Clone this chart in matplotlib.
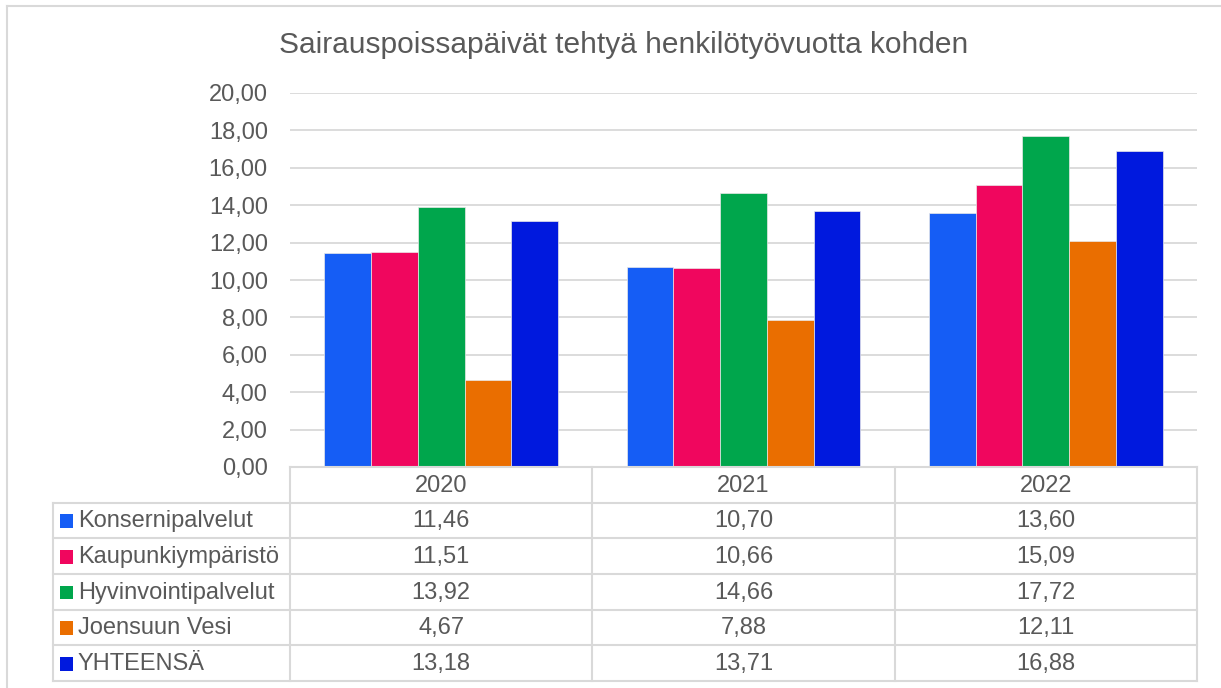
import matplotlib
matplotlib.use("Agg")
import matplotlib.pyplot as plt
from matplotlib.patches import Rectangle
import numpy as np

plt.rcParams['font.family'] = ['Liberation Sans', 'DejaVu Sans']

title = "Sairauspoissapäivät tehtyä henkilötyövuotta kohden"
years = ["2020", "2021", "2022"]
series_names = ["Konsernipalvelut", "Kaupunkiympäristö", "Hyvinvointipalvelut",
                "Joensuun Vesi", "YHTEENSÄ"]
konserni = [11.46, 10.70, 13.60]
kaupunki = [11.51, 10.66, 15.09]
hyvinvointi = [13.92, 14.66, 17.72]
vesi = [4.67, 7.88, 12.11]
yhteensa = [13.18, 13.71, 16.88]
series_values = [konserni, kaupunki, hyvinvointi, vesi, yhteensa]
colors = ["#155DF5", "#F0065E", "#00A64C", "#EA6E00", "#0019DE"]
yticks = [0, 2, 4, 6, 8, 10, 12, 14, 16, 18, 20]

TXT = "#595959"
GRID = "#D9D9D9"
W, H = 1221, 688
fig = plt.figure(figsize=(W / 100, H / 100), dpi=100)

def fx(px):
    return px / W

def fy(py):
    return 1 - py / H

# outer border (only top and left edges visible)
fig.add_artist(plt.Line2D([fx(7), fx(7)], [fy(6), 0], transform=fig.transFigure,
                          color=GRID, linewidth=1.5))
fig.add_artist(plt.Line2D([fx(7), 1], [fy(6), fy(6)], transform=fig.transFigure,
                          color=GRID, linewidth=1.5))

ax_l, ax_r, ax_t, ax_b = 290, 1197, 93, 467
ax = fig.add_axes([fx(ax_l), fy(ax_b), fx(ax_r) - fx(ax_l), fy(ax_t) - fy(ax_b)])
x = np.arange(len(years))
bw = 0.1546
for i, (vals, c) in enumerate(zip(series_values, colors)):
    ax.bar(x + (i - 2) * bw, vals, width=bw, color=c, edgecolor="#E8E8E8",
           linewidth=0.5, zorder=3)
ax.set_xlim(-0.5, 2.5)
ax.set_ylim(0, 20)
ax.set_yticks(yticks)
ax.set_yticklabels([f"{v:.2f}".replace(".", ",") for v in yticks])
ax.tick_params(axis='y', length=0, pad=16, labelsize=17, labelcolor=TXT)
ax.set_xticks([])
ax.grid(axis='y', color=GRID, linewidth=1.3, zorder=0)
for s in ax.spines.values():
    s.set_visible(False)

fig.text(fx(624), fy(45), title, ha='center', va='center', fontsize=21.5, color=TXT)

# data table
tb_t, tb_b = 467, 681
tax = fig.add_axes([fx(ax_l), fy(tb_b), fx(ax_r) - fx(ax_l), fy(tb_t) - fy(tb_b)])
tax.set_xlim(-0.5, 2.5)
tax.set_ylim(6, 0)
tax.axis('off')
left_x = -0.5 - (ax_l - 53) / ((ax_r - ax_l) / 3)
lw = 1.5
tax.plot([-0.5, 2.5], [0, 0], color=GRID, lw=lw, clip_on=False)
for r in range(1, 7):
    tax.plot([left_x, 2.5], [r, r], color=GRID, lw=lw, clip_on=False)
tax.plot([left_x, left_x], [1, 6], color=GRID, lw=lw, clip_on=False)
for cx in [-0.5, 0.5, 1.5, 2.5]:
    tax.plot([cx, cx], [0, 6], color=GRID, lw=lw, clip_on=False)
for j, yr in enumerate(years):
    tax.text(j, 0.52, yr, ha='center', va='center', fontsize=17, color=TXT)
unit = (ax_r - ax_l) / 3
for i, (name, vals, c) in enumerate(zip(series_names, series_values, colors)):
    r = i + 1.52
    sq = 13 / unit
    tax.add_patch(Rectangle((left_x + 7 / unit, r - 0.19), sq, 0.38,
                            facecolor=c, edgecolor='none', clip_on=False))
    tax.text(left_x + 25 / unit, r, name, ha='left', va='center',
             fontsize=17, color=TXT, clip_on=False)
    for j, v in enumerate(vals):
        tax.text(j, r, f"{v:.2f}".replace(".", ","), ha='center', va='center',
                 fontsize=17, color=TXT)

fig.savefig("out.png", dpi=100)
